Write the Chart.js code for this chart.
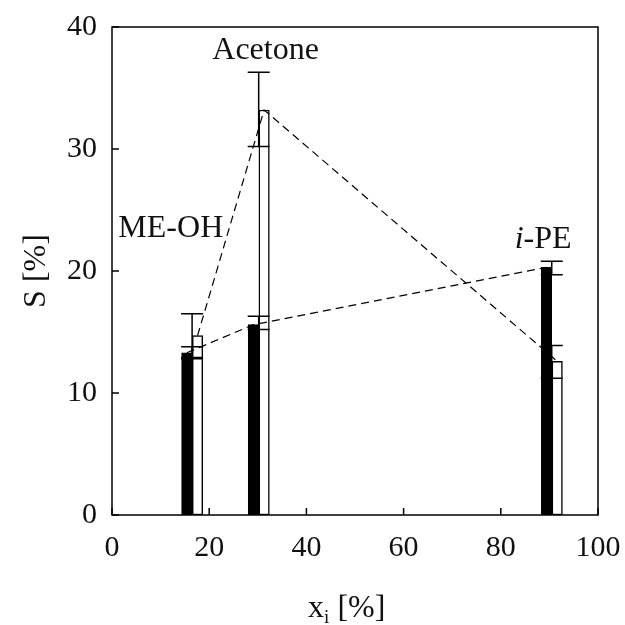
<!DOCTYPE html>
<html>
<head>
<meta charset="utf-8">
<script src="https://cdn.jsdelivr.net/npm/chart.js@4.4.1/dist/chart.umd.min.js"></script>
<style>
  html, body { margin: 0; padding: 0; background: #fff; }
  #wrap { width: 625px; height: 625px; }
</style>
</head>
<body>
<div id="wrap"><canvas id="chart"></canvas></div>
<script>
// --- data ---
const solvents = ["ME-OH", "Acetone", "i-PE"];
const blackX = [15.4, 29.1, 89.4];      // x_i of filled bars
const blackS = [13.3, 15.6, 20.3];
const blackErrUp = [0.5, 0.7, 0.5];
const blackErrDown = [0.5, 0.4, 0.6];
const whiteX = [17.6, 31.3, 91.6];      // x_i of open bars
const whiteS = [14.7, 33.2, 12.6];
const whiteErrUp = [1.8, 3.1, 1.3];
const whiteErrDown = [1.8, 3.0, 1.4];
const xTicks = [0, 20, 40, 60, 80, 100];
const yTicks = [0, 10, 20, 30, 40];
// where the solvent names sit, in data units
const labelX = [12.1, 31.6, 88.7];
const labelY = [23.5, 38.1, 22.6];

const SERIF = "'Liberation Serif', 'Times New Roman', serif";
const INK = "#111";

const pts = (xs, ys) => xs.map((x, i) => ({ x, y: ys[i] }));

// frame, inward ticks, error bars, labels, x title
const decorPlugin = {
  id: "decor",
  afterDatasetsDraw(chart) {
    const { ctx, chartArea: a, scales } = chart;
    const xs = scales.x, ys = scales.y;
    ctx.save();
    ctx.strokeStyle = "#000";
    ctx.lineWidth = 1.5;

    // error bars sit on the seam between the two bars of a pair
    const blackMeta = chart.getDatasetMeta(2);
    const drawErr = (px, v, up, down) => {
      const yt = ys.getPixelForValue(v + up);
      const yb = ys.getPixelForValue(v - down);
      ctx.beginPath();
      ctx.moveTo(px, yt); ctx.lineTo(px, yb);
      ctx.moveTo(px - 11, yt); ctx.lineTo(px + 11, yt);
      ctx.moveTo(px - 11, yb); ctx.lineTo(px + 11, yb);
      ctx.stroke();
    };
    blackMeta.data.forEach((bar, i) => {
      const seam = bar.x + bar.width / 2;
      drawErr(seam, blackS[i], blackErrUp[i], blackErrDown[i]);
      drawErr(seam, whiteS[i], whiteErrUp[i], whiteErrDown[i]);
    });

    // box + inward ticks
    ctx.strokeRect(a.left, a.top, a.right - a.left, a.bottom - a.top);
    ctx.beginPath();
    yTicks.forEach((v) => {
      const py = ys.getPixelForValue(v);
      ctx.moveTo(a.left, py); ctx.lineTo(a.left + 7, py);
    });
    xTicks.forEach((v) => {
      const px = xs.getPixelForValue(v);
      ctx.moveTo(px, a.bottom); ctx.lineTo(px, a.bottom - 7);
    });
    ctx.stroke();

    // solvent names
    ctx.fillStyle = INK;
    ctx.textBaseline = "middle";
    solvents.forEach((name, i) => {
      const px = xs.getPixelForValue(labelX[i]);
      const py = ys.getPixelForValue(labelY[i]);
      if (name.startsWith("i-")) {
        ctx.font = `italic 32px ${SERIF}`;
        const w1 = ctx.measureText("i").width;
        ctx.font = `32px ${SERIF}`;
        const w2 = ctx.measureText(name.slice(1)).width;
        const x0 = px - (w1 + w2) / 2;
        ctx.textAlign = "left";
        ctx.font = `italic 32px ${SERIF}`;
        ctx.fillText("i", x0, py);
        ctx.font = `32px ${SERIF}`;
        ctx.fillText(name.slice(1), x0 + w1, py);
      } else {
        ctx.textAlign = "center";
        ctx.font = `32px ${SERIF}`;
        ctx.fillText(name, px, py);
      }
    });

    // x axis title with subscript i
    ctx.textAlign = "left";
    ctx.textBaseline = "alphabetic";
    ctx.font = `32px ${SERIF}`;
    const wx = ctx.measureText("x").width;
    const wRest = ctx.measureText(" [%]").width;
    ctx.font = `19px ${SERIF}`;
    const wi = ctx.measureText("i").width;
    const cx = xs.getPixelForValue(48.3);
    const base = 617;
    let x0 = cx - (wx + wi + wRest) / 2;
    ctx.font = `32px ${SERIF}`;
    ctx.fillText("x", x0, base);
    ctx.font = `19px ${SERIF}`;
    ctx.fillText("i", x0 + wx, base + 6);
    ctx.font = `32px ${SERIF}`;
    ctx.fillText(" [%]", x0 + wx + wi, base);
    ctx.restore();
  },
};

new Chart(document.getElementById("chart"), {
  type: "bar",
  data: {
    datasets: [
      {
        type: "line",
        data: pts(blackX, blackS),
        borderColor: "#000",
        borderWidth: 1.2,
        borderDash: [8, 5],
        pointRadius: 0,
        fill: false,
      },
      {
        type: "line",
        data: pts(whiteX, whiteS),
        borderColor: "#000",
        borderWidth: 1.2,
        borderDash: [8, 5],
        pointRadius: 0,
        fill: false,
      },
      {
        data: pts(blackX, blackS),
        backgroundColor: "#000",
        borderColor: "#000",
        borderWidth: 1.5,
        barThickness: 10.5,
        grouped: false,
      },
      {
        data: pts(whiteX, whiteS),
        backgroundColor: "#fff",
        borderColor: "#000",
        borderWidth: 1.5,
        borderSkipped: false,
        barThickness: 10.5,
        grouped: false,
      },
    ],
  },
  options: {
    responsive: true,
    maintainAspectRatio: false,
    animation: false,
    layout: { padding: { top: 27, right: 27, left: 0, bottom: 0 } },
    plugins: { legend: { display: false }, tooltip: { enabled: false } },
    scales: {
      x: {
        type: "linear",
        min: 0,
        max: 100,
        offset: false,
        grid: { display: false, drawTicks: false },
        border: { display: false },
        ticks: {
          stepSize: 20,
          autoSkip: false,
          maxRotation: 0,
          padding: 15,
          color: INK,
          font: { family: SERIF, size: 30 },
        },
        afterFit(s) {
          s.height = 110;
          s.paddingLeft = 0;
          s.paddingRight = 0;
        },
      },
      y: {
        min: 0,
        max: 40,
        grid: { display: false, drawTicks: false },
        border: { display: false },
        ticks: {
          stepSize: 10,
          padding: 15,
          color: INK,
          font: { family: SERIF, size: 30 },
        },
        title: {
          display: true,
          text: "S [%]",
          color: INK,
          font: { family: SERIF, size: 32 },
          padding: { top: 17, bottom: 0 },
        },
        afterFit(s) {
          s.width = 112;
          s.paddingTop = 0;
          s.paddingBottom = 0;
        },
      },
    },
  },
  plugins: [decorPlugin],
});
</script>
</body>
</html>
